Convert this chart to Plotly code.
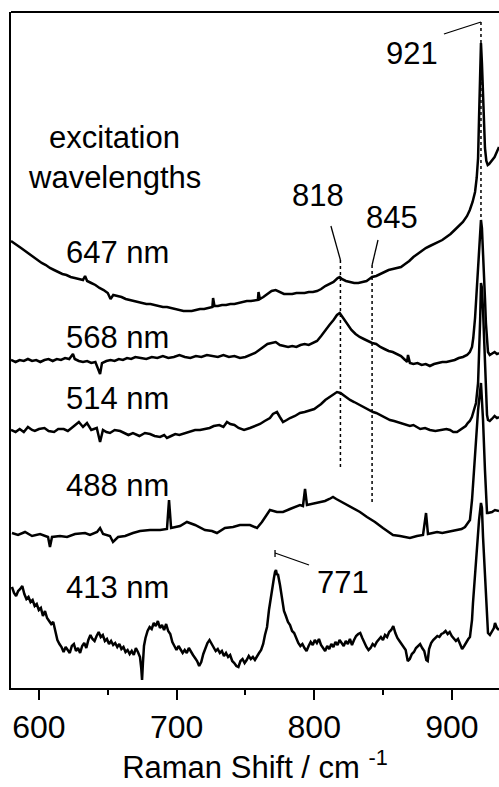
import plotly.graph_objects as go

# ---- data (Raman shift in cm^-1, intensity in arbitrary stacked units) ----
x647 = [579.7, 582, 584, 587, 590, 593, 596, 599, 602, 605, 608, 611, 614, 617, 620, 623, 626, 629, 632,
        633.5, 635, 638, 641, 644, 647, 650, 652, 654, 657, 660, 663, 666, 669, 672, 675, 678, 681, 684,
        687, 690, 693, 696, 699, 702, 705, 708, 711, 714, 717, 720, 723, 726, 726.5, 727.5, 730, 733, 736,
        739, 742, 745, 748, 751, 754, 757, 759, 759.5, 760.5, 763, 766, 769, 772, 775, 778, 781, 784, 787,
        790, 793, 796, 799, 802, 805, 808, 811, 814, 817, 818.5, 820, 823, 826, 829, 832, 835, 838, 840,
        842, 845, 848, 851, 854, 857, 860, 863, 866, 869, 872, 875, 878, 881, 884, 887, 890, 893, 896, 899,
        902, 905, 908, 911, 913, 915, 916.8, 918, 919, 919.7, 920.5, 921.1, 921.8, 922.6, 923.3, 924, 925,
        926, 927, 929, 931, 934.2]
y647 = [447, 445, 443, 440, 437, 434, 431, 428, 425, 423, 420, 418, 416, 414, 413, 411, 410, 409, 408,
        412, 407, 405, 403, 400, 398, 395, 389, 393, 392, 391, 389, 388, 387, 386, 385, 384, 384, 383,
        382, 381, 381, 380, 379, 378, 377, 377, 377, 378, 379, 379, 380, 381, 390, 382, 382, 383, 383,
        384, 384, 385, 386, 387, 387, 388, 388, 396, 389, 391, 394, 397, 398, 396, 394, 394, 394, 395,
        395, 395, 396, 396, 397, 399, 402, 404, 406, 410, 411, 409, 407, 406, 405, 405, 406, 407, 409,
        411, 412, 414, 416, 418, 419, 420, 421, 424, 427, 431, 434, 437, 440, 442, 444, 446, 448, 451, 454,
        458, 462, 466, 472, 478, 486, 496, 510, 530, 570, 615, 645, 625, 588, 560, 540, 527,
        523, 524, 527, 531, 541]

x568 = [579.7, 583, 586, 589, 592, 595, 598, 601, 604, 607, 610, 613, 616, 619, 622, 624.7, 626, 629, 632,
        635, 638, 641, 644.4, 645.8, 649, 652, 655, 658, 661, 664, 667, 670, 674, 678, 682, 686, 690, 694,
        698, 702, 706, 710, 714, 718, 722, 726, 730, 734, 738, 742, 746, 750, 754, 757, 760, 763, 766, 769,
        772, 775, 778, 781, 784, 787, 790, 793, 796, 799, 802, 805, 808, 811, 814, 816.5, 818.5, 820, 822,
        824, 827, 830, 833, 836, 839, 842, 845, 848, 851, 854, 857, 860, 863, 866, 867.4, 868.1, 869.5,
        872, 875, 878, 881, 884, 887, 890, 893, 896, 899, 902, 905, 908, 911, 913, 914.6, 915.5, 916.8,
        917.8, 918.8, 919.9, 921.1, 921.8, 922.6, 923.3, 924, 924.7, 925.5, 926.2, 927.5, 929, 931, 932.7,
        934.2]
y568 = [328, 326, 328, 327, 329, 327, 328, 326, 328, 329, 327, 329, 328, 330, 329, 334, 329, 327, 326,
        327, 325, 326, 314, 325, 327, 328, 327, 329, 328, 330, 329, 331, 330, 329, 331, 330, 332, 330,
        331, 333, 331, 330, 332, 331, 333, 332, 331, 333, 331, 332, 330, 331, 333, 335, 338, 341, 344, 345,
        346, 343, 342, 341, 342, 341, 343, 344, 343, 345, 347, 352, 358, 363, 368, 373, 375, 372, 368,
        364, 358, 354, 351, 349, 347, 345, 344, 341, 339, 337, 336, 334, 332, 328, 326, 333, 325,
        324, 325, 323, 324, 322, 324, 325, 326, 326, 327, 328, 330, 331, 333, 336, 341, 350, 370,
        395, 423, 450, 468, 460, 438, 415, 390, 365, 348, 336, 333, 334, 336, 334,
        335]

x514 = [579.7, 583, 586, 589, 592, 595, 597, 600, 604, 607, 611, 614, 618, 621, 625.5, 629, 632, 634.9,
        638, 642, 644.4, 646.5, 649, 651.6, 655, 659, 662, 665, 668.3, 671, 673, 677, 680.7, 684, 688, 691,
        693, 696, 699, 702, 706, 710, 713.4, 717, 720, 724, 727, 731, 734, 736.6, 739, 742, 745, 749, 753.3,
        757, 760.6, 764, 767.8, 770, 772.9, 775, 777.3, 780, 782.4, 786, 789.6, 793, 797, 800, 802, 805,
        808, 811, 813.6, 816.5, 819, 821, 824, 826, 829, 833, 837, 842.7, 845, 848, 851, 855, 858, 862,
        866, 869.5, 872, 874.6, 877, 880.5, 884, 888, 892, 896, 898.6, 901, 903.7, 906, 908, 910, 911.5,
        913, 914.5, 916, 917.5, 919, 919.7, 920.5, 921.1, 921.8, 922.6, 924, 925.5, 926.2, 927.5, 929, 931,
        932.7, 934.2]
y514 = [258, 256, 259, 256, 261, 258, 257, 259, 260, 257, 256, 259, 259, 257, 262, 266, 261, 265,
        258, 260, 246, 258, 256, 255, 258, 257, 255, 253, 255, 253, 252, 255, 254, 252, 251, 253,
        250, 252, 254, 253, 255, 257, 258, 258, 259, 260, 262, 263, 261, 266, 264, 263, 260, 258, 260,
        262, 264, 267, 270, 274, 276, 271, 266, 268, 270, 272, 275, 276, 278, 279, 281, 284,
        288, 291, 294, 296, 295, 293, 290, 288, 286, 283, 280, 276, 275, 273, 271, 268, 267, 265,
        263, 262, 263, 261, 259, 260, 258, 257, 258, 259, 258, 256, 256, 258, 260, 262, 265,
        267, 271, 277, 285, 305, 328, 368, 405, 400, 378, 325, 273, 268, 267, 269, 272,
        270, 271]

x488 = [580.4, 584.8, 589.9, 595, 600.8, 606.6, 608, 609.5, 615.3, 620.4, 626.2, 633.5, 637.1, 642.2,
        644.4, 646.6, 651.6, 653.8, 657.5, 662.6, 668.3, 673.4, 680.7, 688, 693, 694.5, 696, 702.5, 707.5,
        713.4, 720.6, 725.7, 729.3, 735.1, 741, 746, 753.3, 758.4, 762, 767.8, 772.9, 777.3, 782.4, 786,
        789.6, 791.8, 793.3, 794.7, 798, 802, 805, 807.8, 811, 813.6, 816, 818.7, 822, 826, 829, 833.2,
        838.3, 844.1, 849.9, 853, 857.2, 862.3, 866, 869.5, 874.6, 879, 881.2, 882.6, 886, 889.2, 893,
        896.4, 900, 903.7, 907, 909.5, 913.1, 914.6, 916.8, 919, 921.1, 922.6, 924, 924.7, 925.5, 926.2,
        929.1, 931.3, 934.2]
y488 = [155, 153, 156, 152, 154, 151, 141, 151, 152, 151, 154, 155, 153, 156,
        160, 154, 152, 146, 151, 152, 155, 157, 158, 158, 159, 188, 160, 162, 166,
        163, 158, 157, 155, 160, 161, 163, 163, 160, 166, 178, 176, 176, 179, 181,
        183, 182, 199, 183, 184, 185, 186, 187, 189, 191, 189, 187, 184, 181, 179, 176,
        171, 166, 160, 157, 153, 152, 151, 150, 152, 153, 175, 154, 155, 156, 155,
        156, 157, 158, 159, 161, 168, 188, 235, 278, 305, 268, 218, 201, 175, 175,
        176, 178, 177]

x413 = [580.4, 581.9, 583.4, 584.9, 586.4, 587.9, 589.4, 590.9, 592.4, 593.9,
        595.4, 596.9, 598.4, 599.9, 601.4, 602.9, 604.4, 605.9, 607.4, 608.9,
        610.4, 611.9, 613.4, 614.9, 616.4, 617.9, 619.4, 620.9, 622.4, 623.9,
        625.4, 626.9, 628.4, 629.9, 631.4, 632.9, 634.4, 635.9, 637.4, 638.9,
        640.4, 641.9, 643.4, 644.9, 646.4, 647.9, 649.4, 650.9, 652.4, 653.9,
        655.4, 656.9, 658.4, 659.9, 661.4, 662.9, 664.4, 665.9, 667.4, 668.9,
        670.4, 671.9, 673.4, 674.3, 674.9, 675.5, 676.3, 677.4, 678.9, 680.4, 681.9, 683.4,
        684.9, 686.4, 687.9, 689.4, 690.9, 692.4, 693.9, 695.4, 696.9, 698.4,
        699.9, 701.4, 702.9, 704.4, 705.9, 707.4, 708.9, 710.4, 711.9, 713.4,
        714.9, 716.4, 717.9, 719.4, 720.9, 722.4, 723.9, 725.4, 726.9, 728.4,
        729.9, 731.4, 732.9, 734.4, 735.9, 737.4, 738.9, 740.4, 741.9, 743.4,
        744.9, 746.4, 747.9, 749.4, 750.9, 752.4, 753.9, 755.4, 756.9, 758.4,
        759.9, 761.4, 762.9, 764.2, 765.7, 767.1, 768.6, 769.8, 770.7, 771.5, 772.2, 772.9, 773.6,
        775.1, 776.6, 778.0, 779.4, 780.9, 782.4, 783.9, 785.4, 786.9,
        788.4, 789.9, 791.4, 792.9, 794.4, 795.9, 797.4, 798.9, 800.4, 801.9,
        803.4, 804.9, 806.4, 807.9, 809.4, 810.9, 812.4, 813.9, 815.4, 816.9,
        818.4, 819.9, 821.4, 822.9, 824.4, 825.9, 827.4, 828.9, 830.4, 831.9,
        833.4, 834.9, 836.4, 837.9, 839.4, 840.9, 842.4, 843.9, 845.4, 846.9,
        848.4, 849.9, 851.4, 852.9, 854.4, 855.9, 857.4, 858.9, 860.4, 861.9,
        863.4, 864.9, 866.4, 867.9, 869.4, 870.9, 872.4, 873.9, 875.4, 876.9,
        878.4, 879.9, 881.4, 882.4, 883.4, 884.9, 886.4, 887.9, 889.4, 890.9, 892.4,
        893.9, 895.4, 896.9, 898.4, 899.9, 901.4, 902.9, 904.4, 905.9, 907.4,
        908.9, 910.4, 911.9, 913.1, 914.6, 915.3, 916.8, 917.5, 919.0, 919.7, 921.1, 921.8,
        922.6, 924.0, 924.7, 925.5, 926.2, 927.6, 929.1, 930.5, 931.3, 932.7, 934.2]
y413 = [101, 95, 92, 97, 99, 102, 94, 89, 91, 86,
        88, 82, 84, 78, 80, 72, 77, 70, 67, 64,
        66, 58, 48, 44, 41, 36, 41, 38, 35, 42,
        44, 37, 40, 35, 42, 45, 40, 48, 53, 49,
        47, 52, 56, 51, 53, 47, 49, 44, 47, 43,
        45, 41, 44, 39, 41, 36, 38, 34, 37, 33,
        40, 36, 31, 20, 8, 24, 42, 50, 57, 61, 59, 65,
        62, 67, 60, 63, 58, 64, 57, 54, 46, 42,
        38, 42, 39, 35, 38, 35, 40, 36, 33, 30,
        27, 22, 26, 34, 39, 45, 48, 44, 40, 37,
        39, 35, 37, 32, 35, 31, 33, 27, 25, 22,
        21, 27, 29, 25, 28, 32, 29, 31, 28, 32,
        35, 38, 44, 53, 61, 78, 93, 104, 110, 116, 118, 113, 114,
        103, 88, 77, 72, 66, 63, 57, 55, 50,
        45, 42, 44, 40, 37, 42, 46, 43, 48, 45,
        49, 43, 40, 37, 42, 39, 44, 41, 46, 43,
        48, 45, 42, 47, 44, 49, 43, 48, 52, 54,
        55, 50, 45, 41, 38, 40, 44, 42, 46, 49,
        51, 48, 53, 51, 56, 58, 62, 55, 50, 47,
        44, 40, 38, 27, 29, 34, 36, 40, 42, 44,
        40, 37, 28, 27, 39, 45, 48, 50, 52, 51, 54,
        55, 57, 54, 56, 52, 50, 47, 49, 44, 39,
        42, 46, 49, 51, 68, 85, 113, 135, 158, 168, 185, 180,
        151, 113, 85, 63, 55, 53, 56, 60, 65, 60, 58]

spectra = [(x647, y647), (x568, y568), (x514, y514), (x488, y488), (x413, y413)]

wave_labels = ["647 nm", "568 nm", "514 nm", "488 nm", "413 nm"]
wave_label_y = [436, 351, 290, 203, 101]
header_lines = ["excitation", "wavelengths"]
header_y = [551, 511]

peak_labels = ["921", "818", "845", "771"]
peak_label_x = [871.0, 802.7, 856.5, 820.9]
peak_label_y = [635, 493, 471, 106]

x_ticks = [600, 700, 800, 900]
x_range = [579.7, 934.2]

FONT = "Liberation Sans, Arial, Helvetica, sans-serif"

fig = go.Figure()
for xs, ys in spectra:
    fig.add_trace(go.Scatter(x=xs, y=ys, mode="lines",
                             line=dict(color="black", width=2.5),
                             showlegend=False, hoverinfo="skip"))

shapes = []
# dotted marker lines
for x0, y0, y1 in [(921.1, 666, 458), (819.0, 428, 220), (842.0, 423, 183)]:
    shapes.append(dict(type="line", xref="x", yref="y", x0=x0, x1=x0, y0=y0, y1=y1,
                       line=dict(color="black", width=1.5, dash="dot")))
# leader lines
for x0, y0, x1, y1 in [(894.2, 654, 921.1, 666), (812.1, 462, 819.0, 428),
                       (846.3, 448, 842.0, 423), (796.2, 123, 771.5, 135)]:
    shapes.append(dict(type="line", xref="x", yref="y", x0=x0, y0=y0, x1=x1, y1=y1,
                       line=dict(color="black", width=1.3)))
shapes.append(dict(type="line", xref="x", yref="y", x0=771.5, x1=771.5, y0=131, y1=138,
                   line=dict(color="black", width=1.3)))
# top frame line
shapes.append(dict(type="line", xref="paper", yref="paper", x0=0, x1=1, y0=1, y1=1,
                   line=dict(color="black", width=2)))

annotations = []
for t, yy in zip(header_lines, header_y):
    annotations.append(dict(x=655.2, y=yy, xref="x", yref="y", text=t, showarrow=False,
                            font=dict(size=31, color="black", family=FONT)))
for t, yy in zip(wave_labels, wave_label_y):
    annotations.append(dict(x=657.4, y=yy, xref="x", yref="y", text=t, showarrow=False,
                            font=dict(size=31, color="black", family=FONT)))
for t, xx, yy in zip(peak_labels, peak_label_x, peak_label_y):
    annotations.append(dict(x=xx, y=yy, xref="x", yref="y", text=t, showarrow=False,
                            font=dict(size=31, color="black", family=FONT)))

fig.update_layout(
    width=499, height=787,
    margin=dict(l=11, r=0, t=12, b=99),
    paper_bgcolor="white", plot_bgcolor="white",
    shapes=shapes, annotations=annotations,
    font=dict(family=FONT, color="black"),
    xaxis=dict(range=x_range, tickvals=x_ticks, ticks="outside", ticklen=10, tickwidth=1.5,
               tickcolor="black", showline=True, linecolor="black", linewidth=2,
               showgrid=False, zeroline=False, tickfont=dict(size=32, family=FONT),
               minor=dict(tickvals=[650, 750, 850], ticks="outside", ticklen=5,
                          tickwidth=1.5, tickcolor="black"),
               title=dict(text="Raman Shift / cm <sup>-1</sup>",
                          font=dict(size=31, family=FONT), standoff=12)),
    yaxis=dict(range=[0, 676], showticklabels=False, ticks="", showline=True,
               linecolor="black", linewidth=2, showgrid=False, zeroline=False),
)

fig.write_html("out.html", config={"displayModeBar": False},
               post_script="document.body.style.margin='0';document.body.style.overflow='hidden';")
